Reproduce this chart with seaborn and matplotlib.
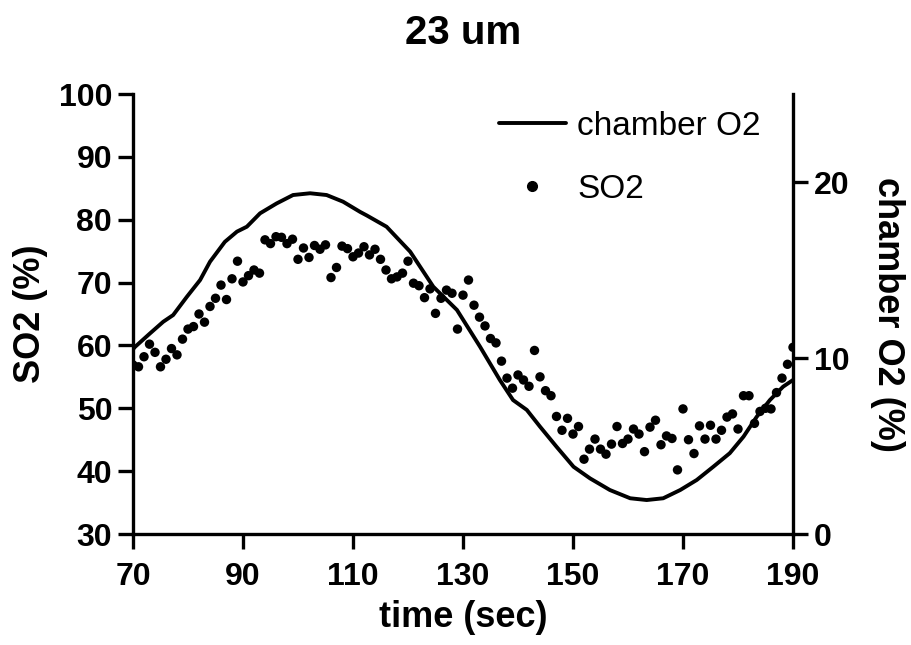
import numpy as np
import pandas as pd
import matplotlib
matplotlib.use("Agg")
import matplotlib.pyplot as plt
from matplotlib.lines import Line2D
import seaborn as sns

# --- DATI ---
# SO2 misurato, un punto al secondo da 70 a 190 s
so2_time = list(range(70, 191))
so2_values = [
    56.9, 56.6, 58.2, 60.2, 58.9, 56.6, 57.8, 59.5, 58.5, 61.0,
    62.6, 63.0, 65.0, 63.7, 66.2, 67.5, 69.6, 67.3, 70.6, 73.4,
    70.1, 71.1, 72.0, 71.5, 76.8, 76.2, 77.3, 77.2, 76.2, 76.9,
    73.7, 75.5, 74.0, 75.9, 75.3, 76.0, 70.8, 72.4, 75.8, 75.4,
    74.1, 74.7, 75.7, 74.4, 75.3, 73.7, 72.0, 70.6, 70.9, 71.5,
    73.4, 69.9, 69.5, 67.6, 69.0, 65.1, 67.5, 68.8, 68.3, 62.6,
    68.0, 70.4, 66.4, 64.5, 63.1, 61.1, 60.4, 57.5, 54.8, 53.2,
    55.3, 54.5, 53.5, 59.2, 55.0, 52.8, 52.0, 48.7, 46.5, 48.4,
    45.9, 47.1, 41.9, 43.5, 45.1, 43.5, 42.7, 44.3, 47.1, 44.4,
    45.1, 46.7, 45.9, 43.1, 47.0, 48.1, 44.2, 45.6, 45.2, 40.2,
    49.9, 45.0, 42.8, 47.2, 45.1, 47.3, 45.1, 46.5, 48.6, 49.1,
    46.7, 52.0, 52.0, 47.6, 49.5, 50.0, 49.9, 52.5, 54.8, 57.0,
    59.7,
]

# O2 della camera (asse destro)
o2_time = [
    70.0, 70.4, 73.1, 75.5, 77.3, 79.8, 82.2, 84.0, 86.7, 88.9,
    90.7, 93.1, 96.1, 99.1, 102.2, 105.2, 108.2, 111.3, 112.5, 116.1,
    120.4, 124.6, 128.9, 133.1, 136.7, 139.1, 141.6, 144.0, 147.0, 150.1,
    153.1, 156.7, 160.4, 163.4, 166.4, 169.5, 172.5, 175.5, 178.5, 181.0,
    183.4, 185.8, 188.2, 190.0,
]
o2_values = [
    10.5, 10.64, 11.4, 12.06, 12.44, 13.48, 14.43, 15.47, 16.6, 17.18,
    17.46, 18.22, 18.78, 19.26, 19.36, 19.26, 18.88, 18.3, 18.1, 17.46,
    16.04, 14.05, 12.73, 10.64, 8.75, 7.61, 7.05, 6.1, 4.96, 3.82,
    3.16, 2.5, 2.03, 1.93, 2.03, 2.5, 3.07, 3.82, 4.59, 5.53,
    6.66, 7.61, 8.37, 8.75,
]

df_so2 = pd.DataFrame({"time": so2_time, "SO2": so2_values})
df_o2 = pd.DataFrame({"time": o2_time, "O2": o2_values})

sns.set_theme(style="white")
plt.rcParams["font.family"] = ["Liberation Sans", "DejaVu Sans"]
plt.rcParams.update({"text.color": "black", "axes.labelcolor": "black",
                     "xtick.color": "black", "ytick.color": "black"})

LW = 2.4
fig = plt.figure(figsize=(9.12, 6.45), dpi=100)
ax = fig.add_axes([133 / 912, 1 - 534 / 645, 660 / 912, 440 / 645])
ax2 = ax.twinx()

sns.scatterplot(data=df_so2, x="time", y="SO2", ax=ax, color="black",
                s=46, edgecolor="none", legend=False)
sns.lineplot(data=df_o2, x="time", y="O2", ax=ax2, color="black",
             linewidth=2.8, legend=False, sort=False)

ax.set_xlim(70, 190)
ax.set_ylim(30, 100)
ax2.set_ylim(0, 25)
ax.set_xticks([70, 90, 110, 130, 150, 170, 190])
ax.set_yticks(range(30, 101, 10))
ax2.set_yticks([0, 10, 20])

for a in (ax, ax2):
    a.spines["top"].set_visible(False)
    for s in ("left", "right", "bottom"):
        a.spines[s].set_linewidth(LW)
        a.spines[s].set_color("black")
    a.tick_params(direction="out", length=11, width=LW, color="black",
                  labelsize=23, pad=4)
    for lab in a.get_xticklabels() + a.get_yticklabels():
        lab.set_fontweight("bold")
ax.spines["right"].set_visible(False)
ax.tick_params(axis="both", which="both", left=True, bottom=True)
ax.tick_params(axis="x", pad=9)
ax2.tick_params(axis="y", right=True)
ax2.spines["left"].set_visible(False)
ax2.spines["bottom"].set_visible(False)

ax.set_xlabel("time (sec)", fontsize=26, fontweight="bold", labelpad=6)
ax.set_ylabel("SO2 (%)", fontsize=26, fontweight="bold", labelpad=8)
ax2.set_ylabel("chamber O2 (%)", fontsize=26, fontweight="bold",
               rotation=270, labelpad=40)
ax.set_title("23 um", fontsize=29, fontweight="bold", pad=36)

handles = [
    Line2D([], [], color="black", linewidth=2.8, label="chamber O2"),
    Line2D([], [], color="black", marker="o", linestyle="none",
           markersize=7, label="SO2"),
]
ax2.legend(handles=handles, loc="upper left",
           bbox_to_anchor=(499 / 912, 1 - 111 / 645),
           bbox_transform=fig.transFigure, frameon=False, fontsize=24,
           borderpad=0, borderaxespad=0, handlelength=2.0,
           handletextpad=0.35, labelspacing=0.95)

fig.savefig("out.png", dpi=100)
